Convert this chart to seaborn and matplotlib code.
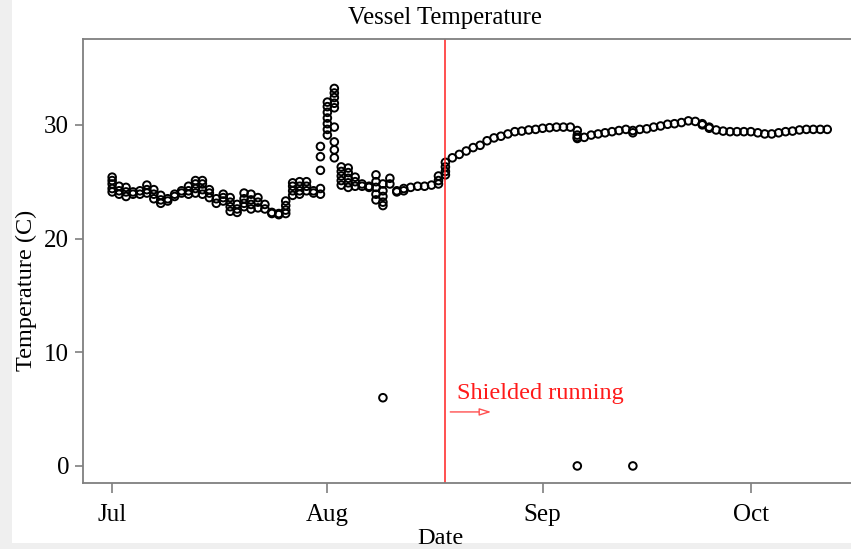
import matplotlib
matplotlib.use("Agg")
import matplotlib.pyplot as plt
import matplotlib.dates as mdates
from matplotlib.patches import Rectangle
import numpy as np
import pandas as pd
import seaborn as sns

# Daily logger readings (several readings per day while the vessel was unshielded)
dense_dates = [
    "2019-07-01", "2019-07-02", "2019-07-03", "2019-07-04", "2019-07-05", "2019-07-06",
    "2019-07-07", "2019-07-08", "2019-07-09", "2019-07-10", "2019-07-11", "2019-07-12",
    "2019-07-13", "2019-07-14", "2019-07-15", "2019-07-16", "2019-07-17", "2019-07-18",
    "2019-07-19", "2019-07-20", "2019-07-21", "2019-07-22", "2019-07-23", "2019-07-24",
    "2019-07-25", "2019-07-26", "2019-07-27", "2019-07-28", "2019-07-29", "2019-07-30",
    "2019-07-31", "2019-08-01", "2019-08-02", "2019-08-03", "2019-08-04", "2019-08-05",
    "2019-08-06", "2019-08-07", "2019-08-08", "2019-08-09", "2019-08-10", "2019-08-11",
    "2019-08-12", "2019-08-13", "2019-08-14", "2019-08-15", "2019-08-16", "2019-08-17",
    "2019-08-18",
]
dense_temps = [
    [25.4, 25.1, 24.8, 24.4, 24.1], [24.6, 24.2, 23.9], [24.5, 24.1, 23.7],
    [24.1, 23.9], [24.2, 23.9], [24.7, 24.3, 24.0],
    [24.3, 23.9, 23.5], [23.8, 23.4, 23.1], [23.5, 23.3],
    [23.9, 23.7], [24.2, 24.0], [24.6, 24.2, 23.9],
    [25.1, 24.8, 24.4, 24.0], [25.1, 24.8, 24.3, 23.9], [24.3, 24.0, 23.6],
    [23.5, 23.1], [23.9, 23.6, 23.3], [23.6, 23.2, 22.8, 22.4],
    [23.0, 22.6, 22.3], [24.0, 23.5, 23.1, 22.8], [23.9, 23.4, 23.0, 22.6],
    [23.6, 23.2, 22.7], [23.0, 22.6], [22.3, 22.2],
    [22.2, 22.1], [23.3, 22.9, 22.5, 22.2], [24.9, 24.6, 24.2, 23.8],
    [25.0, 24.6, 24.2, 23.9], [25.0, 24.6, 24.2], [24.2, 24.0],
    [28.1, 27.2, 26.0, 24.4, 23.9], [32.0, 31.6, 31.1, 30.6, 30.1, 29.6, 29.1],
    [33.2, 32.8, 32.4, 31.9, 31.5, 29.8, 28.5, 27.8, 27.1],
    [26.3, 25.9, 25.5, 25.1, 24.7], [26.2, 25.8, 25.3, 24.9, 24.5], [25.4, 25.0, 24.6],
    [24.8, 24.6], [24.6, 24.5], [25.6, 25.0, 24.5, 23.9, 23.4],
    [24.8, 24.2, 23.7, 23.2, 22.9, 6.0], [25.3, 24.8], [24.2, 24.1],
    [24.4, 24.2], [24.5], [24.6], [24.6], [24.7], [25.5, 25.1, 24.8],
    [26.7, 26.3, 25.9, 25.6],
]

# One reading per day once shielded running started
daily_dates = pd.date_range("2019-08-19", "2019-10-12", freq="D").strftime("%Y-%m-%d").tolist()
daily_temps = [
    27.1, 27.4, 27.7, 28.0, 28.2, 28.6, 28.85, 29.0, 29.2, 29.4,
    29.45, 29.55, 29.6, 29.7, 29.75, 29.8, 29.8, 29.8, 28.8, 28.9,
    29.1, 29.2, 29.3, 29.4, 29.5, 29.6, 29.5, 29.6, 29.65, 29.8,
    29.9, 30.05, 30.1, 30.2, 30.35, 30.3, 30.0, 29.7, 29.55, 29.45,
    29.4, 29.4, 29.4, 29.4, 29.3, 29.2, 29.2, 29.3, 29.4, 29.45,
    29.55, 29.6, 29.6, 29.6, 29.6,
]

# Extra readings on a few shielded days (including the sensor drop-outs)
extra_dates = ["2019-09-06", "2019-09-06", "2019-09-06", "2019-09-06",
               "2019-09-14", "2019-09-14", "2019-09-24", "2019-09-25"]
extra_temps = [29.5, 29.1, 28.9, 0.0, 29.3, 0.0, 30.1, 29.8]

shield_start = "2019-08-18"
x_ticks = ["2019-07-01", "2019-08-01", "2019-09-01", "2019-10-01"]
x_tick_labels = ["Jul", "Aug", "Sep", "Oct"]
y_ticks = [0, 10, 20, 30]

rows = []
for d, temps in zip(dense_dates, dense_temps):
    rows += [(d, t) for t in temps]
rows += list(zip(daily_dates, daily_temps))
rows += list(zip(extra_dates, extra_temps))
df = pd.DataFrame(rows, columns=["Date", "Temperature"])
df["Date"] = pd.to_datetime(df["Date"])

sns.set_style("white")
plt.rcParams["font.family"] = ["Liberation Serif", "DejaVu Serif"]
plt.rcParams["text.color"] = "black"

W, H = 851, 549
fig = plt.figure(figsize=(W / 100, H / 100), dpi=100)
fig.patch.set_facecolor("white")
# light page margins on the left and bottom
fig.add_artist(Rectangle((0, 0), 12 / W, 1, transform=fig.transFigure,
                         facecolor="#efefef", edgecolor="none", zorder=0))
fig.add_artist(Rectangle((0, 0), 1, 6 / H, transform=fig.transFigure,
                         facecolor="#efefef", edgecolor="none", zorder=0))

ax = fig.add_axes([83 / W, (H - 483) / H, (880 - 83) / W, (483 - 39) / H])

sns.scatterplot(data=df, x="Date", y="Temperature", ax=ax, marker="o", s=30,
                facecolor="none", edgecolor="black", linewidth=1.4, legend=False)

jul1 = mdates.date2num(pd.Timestamp("2019-07-01"))
ax.set_xlim(jul1 - 4.2, jul1 + 110.6)
ax.set_ylim(-1.5, 37.55)

ax.set_xticks([mdates.date2num(pd.Timestamp(t)) for t in x_ticks])
ax.set_xticklabels(x_tick_labels)
ax.set_yticks(y_ticks)

for side in ["left", "bottom", "top", "right"]:
    ax.spines[side].set_color("#7f7f7f")
    ax.spines[side].set_linewidth(1.3)
ax.tick_params(axis="both", which="major", direction="out", color="#7f7f7f",
               width=1.2, labelsize=18, labelcolor="black", bottom=True, left=True)
ax.tick_params(axis="x", length=7, pad=8)
ax.tick_params(axis="y", length=6, pad=4)
ax.set_xlabel("")
ax.set_ylabel("")

ax.axvline(mdates.date2num(pd.Timestamp(shield_start)), color="#ff2020", linewidth=1.1)
ax.text(mdates.date2num(pd.Timestamp(shield_start)) + 1.6, 6.4, "Shielded running",
        color="#ff1a1a", fontsize=17.5, va="center", ha="left")
ax.annotate("", xy=(mdates.date2num(pd.Timestamp(shield_start)) + 7.0, 4.75),
            xytext=(mdates.date2num(pd.Timestamp(shield_start)) + 0.3, 4.75),
            arrowprops=dict(arrowstyle="-|>,head_length=0.7,head_width=0.22",
                            color="#ff5050", fc="white", lw=1.0))

fig.text(445 / W, 1 - 18 / H, "Vessel Temperature", ha="center", va="center",
         fontsize=17.8, color="black")
fig.text(440 / W, 1 - 538 / H, "Date", ha="center", va="center", fontsize=17.5,
         color="black")
fig.text(26 / W, 1 - 290 / H, "Temperature (C)", ha="center", va="center",
         rotation=90, fontsize=17.5, color="black")

fig.savefig("out.png", dpi=100)
